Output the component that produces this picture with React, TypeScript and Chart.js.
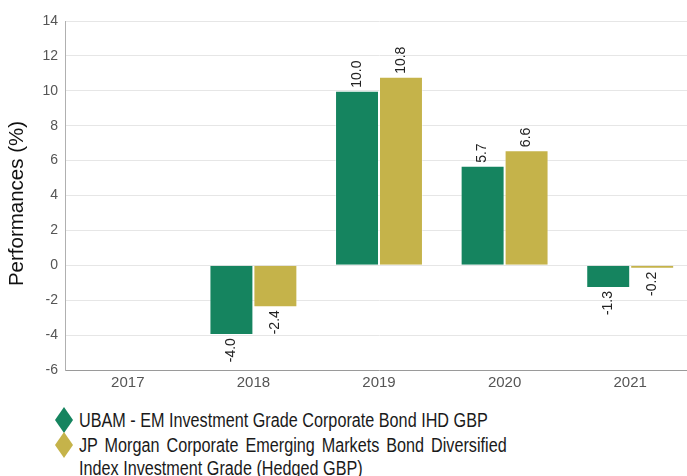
import React, { useEffect, useRef } from "react";
import { Chart, registerables } from "chart.js";

Chart.register(...registerables);

const categories = ["2017", "2018", "2019", "2020", "2021"];
const fundValues: (number | null)[] = [null, -4.0, 10.0, 5.7, -1.3];
const indexValues: (number | null)[] = [null, -2.4, 10.8, 6.6, -0.2];
const fundLabel = "UBAM - EM Investment Grade Corporate Bond IHD GBP";
const indexLabel =
  "JP Morgan Corporate Emerging Markets Bond Diversified Index Investment Grade (Hedged GBP)";
const yTitle = "Performances (%)";

const GREEN = "#15845f";
const GOLD = "#c5b34a";
const FONT = "'Liberation Sans', Arial, sans-serif";

const labelPlugin = {
  id: "barLabels",
  afterDatasetsDraw(chart: any) {
    const ctx = chart.ctx;
    chart.data.datasets.forEach((ds: any, i: number) => {
      const meta = chart.getDatasetMeta(i);
      meta.data.forEach((el: any, j: number) => {
        const v = ds.data[j];
        if (v === null || v === undefined) return;
        ctx.save();
        ctx.translate(el.x, el.y);
        ctx.rotate(-Math.PI / 2);
        ctx.font = `14px ${FONT}`;
        ctx.fillStyle = "#222";
        ctx.textBaseline = "middle";
        ctx.textAlign = v >= 0 ? "left" : "right";
        ctx.fillText(v.toFixed(1), v >= 0 ? 3 : -3, 0);
        ctx.restore();
      });
    });
  },
};

const titlePlugin = {
  id: "yTitle",
  afterDraw(chart: any) {
    const ctx = chart.ctx;
    const area = chart.chartArea;
    ctx.save();
    ctx.translate(17, (area.top + area.bottom) / 2 + 8);
    ctx.rotate(-Math.PI / 2);
    ctx.font = `20.5px ${FONT}`;
    ctx.fillStyle = "#111";
    ctx.textAlign = "center";
    ctx.textBaseline = "middle";
    ctx.fillText(yTitle, 0, 0);
    ctx.restore();
  },
};

function Diamond({ color, top }: { color: string; top: number }) {
  return (
    <svg
      width={20}
      height={26}
      style={{ position: "absolute", left: 54, top }}
      viewBox="0 0 20 26"
    >
      <polygon points="10,0 19,13 10,26 1,13" fill={color} />
    </svg>
  );
}

export default function App() {
  const ref = useRef<HTMLCanvasElement | null>(null);

  useEffect(() => {
    if (!ref.current) return;
    const chart = new Chart(ref.current, {
      type: "bar",
      data: {
        labels: categories,
        datasets: [
          {
            label: fundLabel,
            data: fundValues,
            backgroundColor: GREEN,
            borderColor: "rgba(255,255,255,0.45)",
            borderWidth: 1,
          },
          {
            label: indexLabel,
            data: indexValues,
            backgroundColor: GOLD,
            borderColor: "rgba(255,255,255,0.45)",
            borderWidth: 1,
          },
        ],
      },
      options: {
        animation: false,
        responsive: false,
        maintainAspectRatio: false,
        layout: { padding: { top: 21, left: 0, right: 0, bottom: 0 } },
        datasets: {
          bar: { categoryPercentage: 0.7, barPercentage: 1 },
        },
        plugins: {
          legend: { display: false },
          tooltip: { enabled: false },
        },
        scales: {
          x: {
            grid: { display: true, color: "rgba(0,0,0,0)", drawTicks: false },
            border: { display: true, color: "#9a9a9a", width: 1 },
            ticks: {
              color: "#555",
              font: { family: FONT, size: 15 },
              padding: 4,
            },
            afterFit(scale: any) {
              scale.height = 30;
            },
          },
          y: {
            min: -6,
            max: 14,
            ticks: {
              stepSize: 2,
              color: "#555",
              font: { family: FONT, size: 14 },
              padding: 7,
            },
            grid: { color: "#e6e6e6", drawTicks: false },
            border: { display: true, color: "#b0b0b0", width: 1 },
            title: { display: false },
            afterFit(scale: any) {
              scale.width = 65;
            },
          },
        },
      },
      plugins: [labelPlugin, titlePlugin],
    } as any);
    return () => chart.destroy();
  }, []);

  const legendText: React.CSSProperties = {
    fontFamily: FONT,
    fontSize: 20,
    lineHeight: "23px",
    color: "#1a1a1a",
    textAlign: "justify",
    margin: 0,
  };

  return (
    <div
      style={{
        position: "absolute",
        left: 0,
        top: 0,
        width: 687,
        height: 476,
        overflow: "hidden",
        background: "#fff",
      }}
    >
      <canvas
        ref={ref}
        width={693}
        height={400}
        style={{ position: "absolute", left: 0, top: 0, width: 693, height: 400 }}
      />
      <Diamond color={GREEN} top={407} />
      <Diamond color={GOLD} top={432} />
      <div
        style={{
          position: "absolute",
          left: 79,
          top: 409,
          width: 528,
          transform: "scaleX(0.81)",
          transformOrigin: "0 0",
        }}
      >
        <p style={legendText}>{fundLabel}</p>
        <p style={{ ...legendText, marginTop: 2 }}>{indexLabel}</p>
      </div>
    </div>
  );
}
